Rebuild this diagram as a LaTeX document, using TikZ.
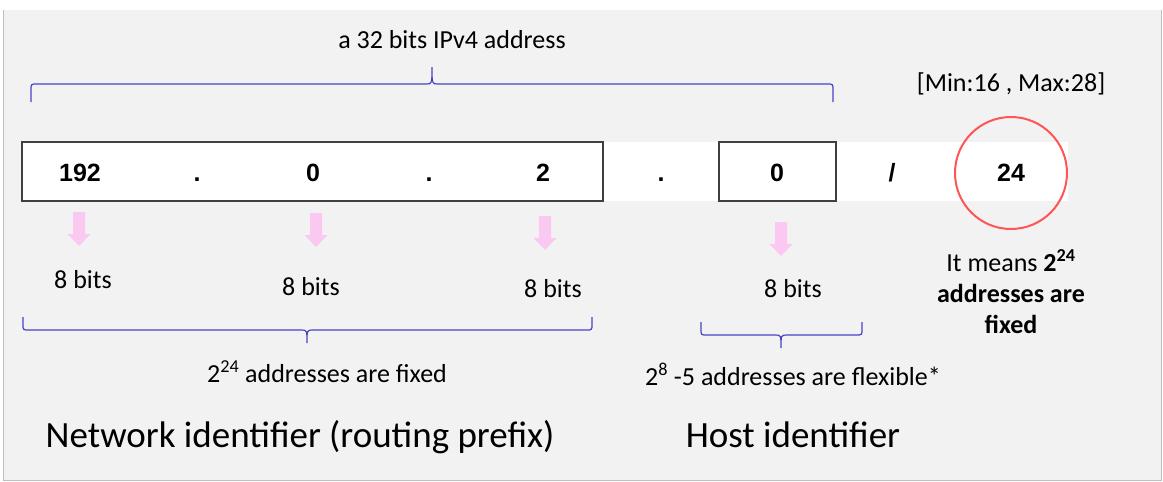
\documentclass[tikz,border=0pt]{standalone}
\usepackage{fontspec}
\setmainfont{Carlito}
\newfontfamily\numfont{Liberation Sans}
\usepackage{tikz}
\definecolor{ip_panel}{RGB}{242,242,242}
\definecolor{ip_edge}{RGB}{190,190,190}
\definecolor{ip_box}{RGB}{64,64,64}
\definecolor{ip_brace}{RGB}{72,66,196}
\definecolor{ip_pink}{RGB}{250,200,240}
\definecolor{ip_red}{RGB}{255,85,85}
\tikzstyle{octet}=[anchor=base,inner sep=0pt,font=\numfont\bfseries\fontsize{25}{30}\selectfont]
\tikzstyle{lbl}=[anchor=base,inner sep=0pt,font=\fontsize{26}{31}\selectfont]
\tikzstyle{big}=[anchor=base,inner sep=0pt,font=\fontsize{37}{44}\selectfont]
\tikzstyle{field}=[draw=ip_box,line width=1.5pt]
\tikzstyle{brc}=[draw=ip_brace,line width=1.2pt]
\tikzstyle{bitarrow}=[fill=ip_pink]
\tikzstyle{ring}=[draw=ip_red,line width=2pt]

\begin{document}
\begin{tikzpicture}[x=1pt,y=-1pt]
        \useasboundingbox (0,0) rectangle (1163,482);
        \fill[white] (0,0) rectangle (1163,482);
        \fill[ip_panel] (3,10) rectangle (1161,480);
        \draw[ip_edge,line width=1pt] (3,10) -- (3,480) -- (1161,480) -- (1161,10);
        % address strip
        \fill[white] (22,142) rectangle (1068,201);
        \draw[field] (22,142) rectangle (603,201);
        \draw[field] (719,142) rectangle (836,201);
        \draw[ring] (1011,173) circle [radius=56];
        \node [style=octet] (o1) at (80,181) {192};
        \node [style=octet] (d1) at (197,181) {.};
        \node [style=octet] (o2) at (313,181) {0};
        \node [style=octet] (d2) at (429,181) {.};
        \node [style=octet] (o3) at (543,181) {2};
        \node [style=octet] (d3) at (661,181) {.};
        \node [style=octet] (o4) at (777,181) {0};
        \node [style=octet] (sl) at (892,181) {/};
        \node [style=octet] (len) at (1011,181) {24};
        % braces
        \draw[brc] (31,102) -- (31,90) .. controls (31,84) .. (37,84) -- (426,84)
          .. controls (432,84) .. (432,67) .. controls (432,84) .. (438,84) -- (827,84)
          .. controls (833,84) .. (833,90) -- (833,102);
        \draw[brc] (23,317) -- (23,324) .. controls (23,330) .. (29,330) -- (301,330)
          .. controls (307,330) .. (307,343) .. controls (307,330) .. (313,330) -- (586,330)
          .. controls (592,330) .. (592,324) -- (592,317);
        \draw[brc] (701,322) -- (701,329) .. controls (701,335) .. (707,335) -- (775,335)
          .. controls (781,335) .. (781,348) .. controls (781,335) .. (787,335) -- (856,335)
          .. controls (862,335) .. (862,329) -- (862,322);
        % arrows
        \foreach \x/\y in {79/212,316/213,545/216,781/222}
          \fill[bitarrow] (\x-6,\y) -- (\x+6,\y) -- (\x+6,\y+22) -- (\x+11.5,\y+22)
            -- (\x,\y+34) -- (\x-11.5,\y+22) -- (\x-6,\y+22) -- cycle;
        % labels
        \node [style=lbl] (title) at (452,48) {a 32 bits IPv4 address};
        \node [style=lbl] (range) at (1011,91) {[Min:16 , Max:28]};
        \node [style=lbl] (b1) at (83,288) {8 bits};
        \node [style=lbl] (b2) at (311,295) {8 bits};
        \node [style=lbl] (b3) at (553,297) {8 bits};
        \node [style=lbl] (b4) at (793,297) {8 bits};
        \node [style=lbl] (fixed) at (327,382) {2\textsuperscript{24} addresses are fixed};
        \node [style=lbl] (flex) at (793,385) {2\textsuperscript{8} -5 addresses are flexible*};
        \node [style=big] (net) at (300,447) {Network identifier (routing prefix)};
        \node [style=big] (hostid) at (793,447) {Host identifier};
        \node [style=lbl,align=center] (means) at (1011,333)
          {It means \textbf{2\textsuperscript{24}}\\\textbf{addresses are}\\\textbf{fixed}};
    \end{tikzpicture}
\end{document}
